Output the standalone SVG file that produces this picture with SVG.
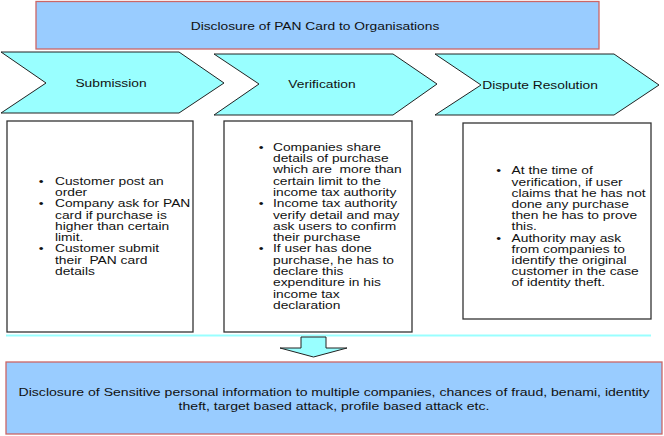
<svg xmlns="http://www.w3.org/2000/svg" width="664" height="436" viewBox="0 0 664 436">
<style>
.hdr{fill:#99ccff;stroke:#cc6666;stroke-width:1.3}
.chev{fill:#99ffff;stroke:#222;stroke-width:1}
.box{fill:#fff;stroke:#333;stroke-width:1.3}
.t{font-family:"Liberation Sans",Arial,sans-serif;font-size:10.3px;fill:#111;white-space:pre}
.c{text-anchor:middle}
</style>
<rect width="664" height="436" fill="#fff"/>
<g id="title">
<rect class="hdr" x="36" y="1.5" width="563" height="47.5"/>
<text class="t c" transform="translate(315,29.5) scale(1.34,1)">Disclosure of PAN Card to Organisations</text>
</g>
<g id="submission">
<polygon class="chev" points="1,52 179,52 224,83 179,113 1,113 46,83"/>
<text class="t c" transform="translate(111,87) scale(1.34,1)">Submission</text>
</g>
<g id="verification">
<polygon class="chev" points="214,54 393,54 437,84 393,115 214,115 259,84"/>
<text class="t c" transform="translate(322,88) scale(1.34,1)">Verification</text>
</g>
<g id="dispute">
<polygon class="chev" points="435,54 614,54 659,85 614,115 435,115 481,85"/>
<text class="t c" transform="translate(540,88.5) scale(1.34,1)">Dispute Resolution</text>
</g>
<g id="box-submission">
<rect class="box" x="7" y="121" width="186" height="211"/>
<text class="t" transform="translate(40,0) scale(1.34,1)">
<tspan x="-1" y="184.7">•</tspan><tspan x="11.2" y="184.7">Customer post an</tspan>
<tspan x="11.2" y="196">order</tspan>
<tspan x="-1" y="207.3">•</tspan><tspan x="11.2" y="207.3">Company ask for PAN</tspan>
<tspan x="11.2" y="218.6">card if purchase is</tspan>
<tspan x="11.2" y="229.9">higher than certain</tspan>
<tspan x="11.2" y="241.2">limit.</tspan>
<tspan x="-1" y="252.5">•</tspan><tspan x="11.2" y="252.5">Customer submit</tspan>
<tspan x="11.2" y="263.8">their  PAN card</tspan>
<tspan x="11.2" y="275.1">details</tspan>
</text>
</g>
<g id="box-verification">
<rect class="box" x="224" y="121" width="188" height="211"/>
<text class="t" transform="translate(260,0) scale(1.34,1)">
<tspan x="-1" y="150.8">•</tspan><tspan x="9.7" y="150.8">Companies share</tspan>
<tspan x="9.7" y="162.1">details of purchase</tspan>
<tspan x="9.7" y="173.4">which are  more than</tspan>
<tspan x="9.7" y="184.7">certain limit to the</tspan>
<tspan x="9.7" y="196">income tax authority</tspan>
<tspan x="-1" y="207.3">•</tspan><tspan x="9.7" y="207.3">Income tax authority</tspan>
<tspan x="9.7" y="218.6">verify detail and may</tspan>
<tspan x="9.7" y="229.9">ask users to confirm</tspan>
<tspan x="9.7" y="241.2">their purchase</tspan>
<tspan x="-1" y="252.5">•</tspan><tspan x="9.7" y="252.5">If user has done</tspan>
<tspan x="9.7" y="263.8">purchase, he has to</tspan>
<tspan x="9.7" y="275.1">declare this</tspan>
<tspan x="9.7" y="286.4">expenditure in his</tspan>
<tspan x="9.7" y="297.7">income tax</tspan>
<tspan x="9.7" y="309">declaration</tspan>
</text>
</g>
<g id="box-dispute">
<rect class="box" x="463" y="123" width="188" height="196"/>
<text class="t" transform="translate(497.7,0) scale(1.34,1)">
<tspan x="-1" y="174.5">•</tspan><tspan x="10.4" y="174.5">At the time of</tspan>
<tspan x="10.4" y="185.7">verification, if user</tspan>
<tspan x="10.4" y="196.9">claims that he has not</tspan>
<tspan x="10.4" y="208.1">done any purchase</tspan>
<tspan x="10.4" y="219.3">then he has to prove</tspan>
<tspan x="10.4" y="230.5">this.</tspan>
<tspan x="-1" y="241.7">•</tspan><tspan x="10.4" y="241.7">Authority may ask</tspan>
<tspan x="10.4" y="252.9">from companies to</tspan>
<tspan x="10.4" y="264.1">identify the original</tspan>
<tspan x="10.4" y="275.3">customer in the case</tspan>
<tspan x="10.4" y="286.5">of identity theft.</tspan>
</text>
</g>
<g id="connectors">
<line x1="6" y1="335.5" x2="651" y2="335.5" stroke="#99ffff" stroke-width="2"/>
<polygon points="301,337 326,337 326,348 347,348 313.5,357 280,348 301,348" fill="#99ffff" stroke="#222" stroke-width="1"/>
</g>
<g id="outcome">
<rect class="hdr" x="6" y="362" width="656" height="72"/>
<text class="t c" transform="translate(334,396) scale(1.365,1)">Disclosure of Sensitive personal information to multiple companies, chances of fraud, benami, identity</text>
<text class="t c" transform="translate(334,410) scale(1.365,1)">theft, target based attack, profile based attack etc.</text>
</g>
</svg>
